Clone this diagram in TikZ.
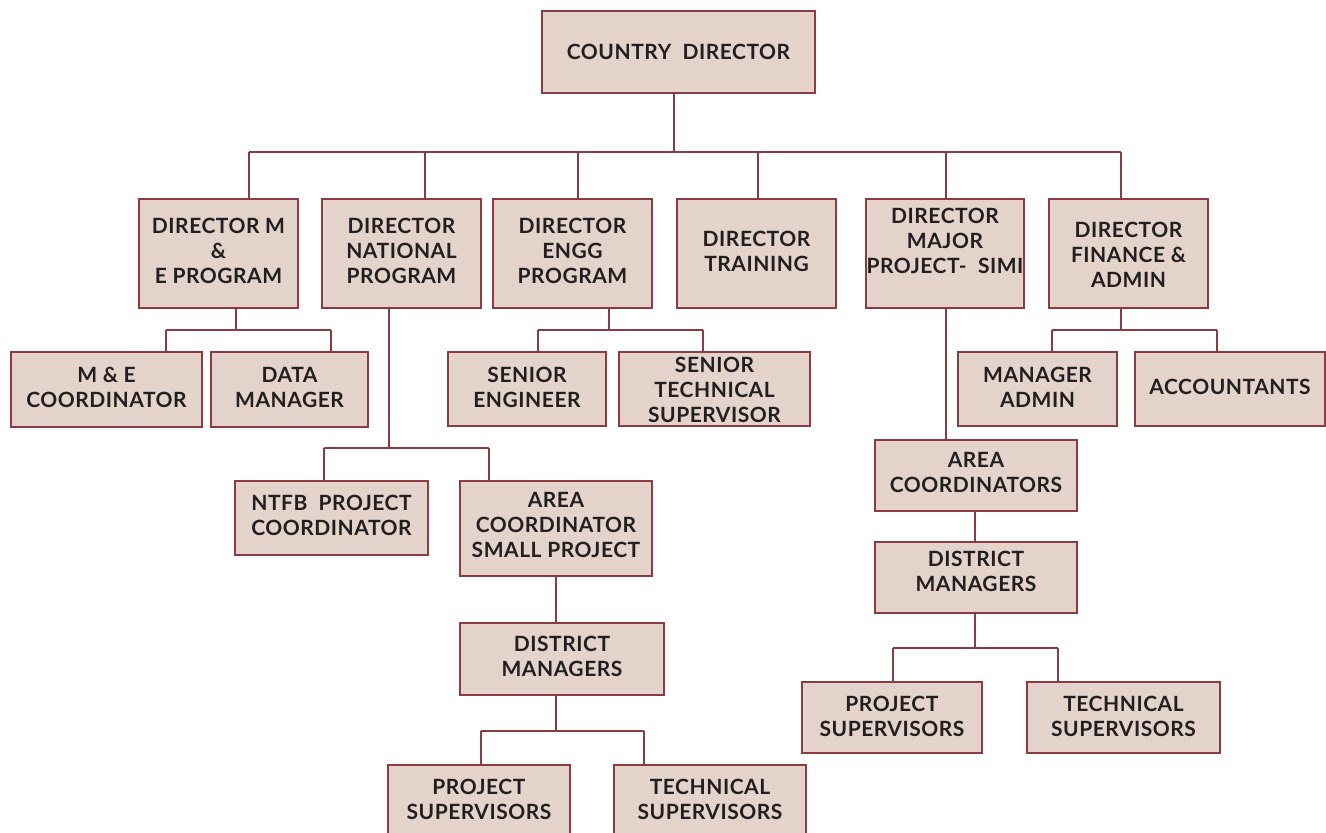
\documentclass[tikz,border=0pt]{standalone}
\usepackage{fontspec}
\setmainfont{Lato}[UprightFont=* Bold, LetterSpace=2.5]
\definecolor{edge}{HTML}{8E3A41}
\definecolor{boxfill}{HTML}{E3D3CA}
\definecolor{ink}{HTML}{231F20}
\begin{document}
\begin{tikzpicture}[x=1pt,y=-1pt,
  box/.style={draw=edge, line width=1.5pt, fill=boxfill, inner sep=0pt, anchor=center},
  lbl/.style={align=center, text=ink, font=\fontsize{21}{25}\selectfont, inner sep=0pt},
  conn/.style={draw=edge, line width=1.3pt}]
\useasboundingbox (0,0) rectangle (1326,833);
\clip (0,0) rectangle (1326,833);
% box macro: name, x1, y1, x2, y2, text, yshift
\newcommand\bx[7]{%
  \node[box, minimum width={#4pt-#2pt}, minimum height={#5pt-#3pt},
        label={[lbl,yshift=#7pt]center:{#6}}] (#1) at ({(#2+#4)/2},{(#3+#5)/2}) {};}
\bx{cd}{542}{11}{815}{93}{COUNTRY~~DIRECTOR}{0}
\bx{dme}{139}{199}{298}{308}{DIRECTOR M\\\&\\E PROGRAM}{3}
\bx{dnp}{322}{199}{481}{308}{DIRECTOR\\NATIONAL\\PROGRAM}{3}
\bx{deg}{493}{199}{652}{308}{DIRECTOR\\ENGG\\PROGRAM}{3}
\bx{dtr}{677}{199}{836}{308}{DIRECTOR\\TRAINING}{2}
\bx{dmj}{866}{199}{1024}{308}{DIRECTOR\\MAJOR\\PROJECT-~~SIMI}{13}
\bx{dfa}{1049}{199}{1208}{308}{DIRECTOR\\FINANCE \&\\ADMIN}{-1}
% third row
\bx{mec}{11}{352}{202}{427}{M \& E\\COORDINATOR}{2}
\bx{dm}{211}{352}{368}{427}{DATA\\MANAGER}{2}
\bx{se}{448}{352}{606}{426}{SENIOR\\ENGINEER}{2}
\bx{sts}{619}{352}{810}{426}{SENIOR\\TECHNICAL\\SUPERVISOR}{-1}
\bx{ma}{958}{352}{1117}{426}{MANAGER\\ADMIN}{2}
\bx{acc}{1135}{352}{1325}{426}{ACCOUNTANTS}{2}
% national program branch
\bx{ntfb}{235}{481}{428}{555}{NTFB~~PROJECT\\COORDINATOR}{3}
\bx{acsp}{460}{481}{652}{576}{AREA\\COORDINATOR\\SMALL PROJECT}{4}
\bx{dml}{460}{623}{664}{695}{DISTRICT\\MANAGERS}{3}
\bx{psl}{388}{765}{570}{860}{PROJECT\\SUPERVISORS}{13}
\bx{tsl}{614}{765}{806}{860}{TECHNICAL\\SUPERVISORS}{13}
% major project branch
\bx{ac}{875}{440}{1077}{511}{AREA\\COORDINATORS}{3}
\bx{dmr}{875}{542}{1077}{613}{DISTRICT\\MANAGERS}{6}
\bx{psr}{802}{682}{982}{753}{PROJECT\\SUPERVISORS}{1}
\bx{tsr}{1027}{682}{1220}{753}{TECHNICAL\\SUPERVISORS}{1}
% top bus
\coordinate (t1) at (249,152);
\coordinate (t2) at (425,152);
\coordinate (t3) at (578,152);
\coordinate (t4) at (758,152);
\coordinate (t5) at (946,152);
\coordinate (t6) at (1121,152);
\draw[conn] (t1) -- (t6);
\draw[conn] (cd.south -| 674,0) -- (674,152);
\foreach \c/\n in {t1/dme,t2/dnp,t3/deg,t4/dtr,t5/dmj,t6/dfa}
  \draw[conn] (\c) -- (\c |- \n.north);
% M&E bus
\coordinate (me0) at (236,330);
\coordinate (me1) at (166,330);
\coordinate (me2) at (331,330);
\draw[conn] (me0 |- dme.south) -- (me0);
\draw[conn] (me1) -- (me2);
\draw[conn] (me1) -- (me1 |- mec.north);
\draw[conn] (me2) -- (me2 |- dm.north);
% Engg bus
\coordinate (en0) at (609,330);
\coordinate (en1) at (538,330);
\coordinate (en2) at (703,330);
\draw[conn] (en0 |- deg.south) -- (en0);
\draw[conn] (en1) -- (en2);
\draw[conn] (en1) -- (en1 |- se.north);
\draw[conn] (en2) -- (en2 |- sts.north);
% Finance bus
\coordinate (fi0) at (1121,330);
\coordinate (fi1) at (1052,330);
\coordinate (fi2) at (1217,330);
\draw[conn] (fi0 |- dfa.south) -- (fi0);
\draw[conn] (fi1) -- (fi2);
\draw[conn] (fi1) -- (fi1 |- ma.north);
\draw[conn] (fi2) -- (fi2 |- acc.north);
% National bus
\coordinate (na0) at (389,448);
\coordinate (na1) at (324,448);
\coordinate (na2) at (489,448);
\draw[conn] (na0 |- dnp.south) -- (na0);
\draw[conn] (na1) -- (na2);
\draw[conn] (na1) -- (na1 |- ntfb.north);
\draw[conn] (na2) -- (na2 |- acsp.north);
\coordinate (sp0) at (556,731);
\coordinate (sp1) at (481,731);
\coordinate (sp2) at (644,731);
\draw[conn] (sp0 |- acsp.south) -- (sp0 |- dml.north);
\draw[conn] (sp0 |- dml.south) -- (sp0);
\draw[conn] (sp1) -- (sp2);
\draw[conn] (sp1) -- (sp1 |- psl.north);
\draw[conn] (sp2) -- (sp2 |- tsl.north);
% Major branch
\coordinate (mj0) at (946,440);
\draw[conn] (mj0 |- dmj.south) -- (mj0 |- ac.north);
\coordinate (mr0) at (975,648);
\coordinate (mr1) at (893,648);
\coordinate (mr2) at (1058,648);
\draw[conn] (mr0 |- ac.south) -- (mr0 |- dmr.north);
\draw[conn] (mr0 |- dmr.south) -- (mr0);
\draw[conn] (mr1) -- (mr2);
\draw[conn] (mr1) -- (mr1 |- psr.north);
\draw[conn] (mr2) -- (mr2 |- tsr.north);
\end{tikzpicture}
\end{document}
